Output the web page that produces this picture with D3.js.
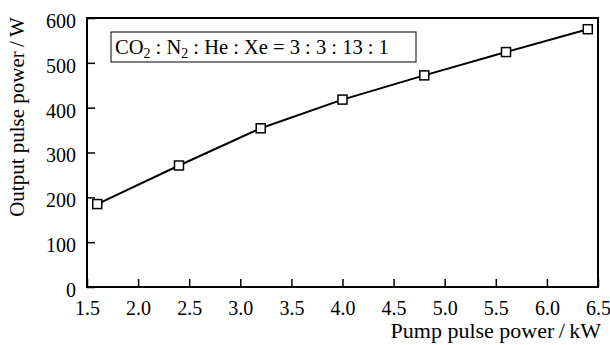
<!DOCTYPE html>
<html>
<head>
<meta charset="utf-8">
<script src="https://cdn.jsdelivr.net/npm/d3@7"></script>
<style>
  body { margin: 0; background: #fff; }
  svg text { font-family: "Liberation Serif", "DejaVu Serif", serif; fill: #000; }
</style>
</head>
<body>
<script>
// data
var pumpPower = [1.6, 2.4, 3.2, 4.0, 4.8, 5.6, 6.4];
var outputPower = [185, 271, 354, 418, 472, 524, 575];
var xTicks = [1.5, 2.0, 2.5, 3.0, 3.5, 4.0, 4.5, 5.0, 5.5, 6.0, 6.5];
var yTicks = [0, 100, 200, 300, 400, 500, 600];

var width = 610, height = 345;
var margin = { left: 87, right: 12, top: 18, bottom: 58 };

var svg = d3.select('body').append('svg').attr('width', width).attr('height', height);

var x = d3.scaleLinear().domain([1.5, 6.5]).range([margin.left, width - margin.right]);
var y = d3.scaleLinear().domain([0, 600]).range([height - margin.bottom, margin.top]);

// x axis, ticks pointing inward
var xAxis = svg.append('g')
   .attr('transform', 'translate(0,' + y(0) + ')')
   .call(d3.axisBottom(x).tickValues(xTicks).tickFormat(d3.format('.1f')).tickSize(-8).tickSizeOuter(0).tickPadding(14));
xAxis.select('.domain').remove();
xAxis.selectAll('line').attr('stroke-width', 1.5);
xAxis.selectAll('text').attr('font-size', 20).attr('font-family', '"Liberation Serif", serif');

var yAxis = svg.append('g')
   .attr('transform', 'translate(' + x(1.5) + ',0)')
   .call(d3.axisLeft(y).tickValues(yTicks).tickSize(-8).tickSizeOuter(0).tickPadding(11));
yAxis.select('.domain').remove();
yAxis.selectAll('line').attr('stroke-width', 1.5);
yAxis.selectAll('text').attr('font-size', 20).attr('font-family', '"Liberation Serif", serif').attr('dy', '0.47em');

// frame
svg.append('rect')
   .attr('x', x(1.5)).attr('y', y(600))
   .attr('width', x(6.5) - x(1.5)).attr('height', y(0) - y(600))
   .attr('fill', 'none').attr('stroke', '#000').attr('stroke-width', 2);

// legend box
svg.append('rect')
   .attr('x', 111).attr('y', 32).attr('width', 305).attr('height', 30)
   .attr('fill', '#fff').attr('stroke', '#000').attr('stroke-width', 1);

var lg = svg.append('text').attr('x', 115).attr('y', 54).attr('font-size', 20.5);
lg.append('tspan').text('CO');
lg.append('tspan').text('2').attr('font-size', 14).attr('dy', 4);
lg.append('tspan').text(' : N').attr('dy', -4);
lg.append('tspan').text('2').attr('font-size', 14).attr('dy', 4);
lg.append('tspan').text(' : He : Xe = 3 : 3 : 13 : 1').attr('dy', -4);

// series line
var pts = pumpPower.map(function (d, i) { return [d, outputPower[i]]; });
svg.append('path')
   .datum(pts)
   .attr('fill', 'none').attr('stroke', '#000').attr('stroke-width', 2)
   .attr('d', d3.line().x(function (d) { return x(d[0]); }).y(function (d) { return y(d[1]); }));

svg.selectAll('rect.pt')
   .data(pts)
   .enter()
   .append('rect')
   .attr('class', 'pt')
   .attr('x', function (d) { return x(d[0]) - 4.5; })
   .attr('y', function (d) { return y(d[1]) - 4.5; })
   .attr('width', 9).attr('height', 9)
   .attr('fill', '#fff').attr('stroke', '#000').attr('stroke-width', 1.5);

// axis titles
svg.append('text')
   .attr('x', 601).attr('y', 338)
   .attr('text-anchor', 'end').attr('font-size', 22)
   .text('Pump pulse power\u2009/\u2009kW');

svg.append('text')
   .attr('transform', 'translate(24,117) rotate(-90)')
   .attr('text-anchor', 'middle').attr('font-size', 21)
   .text('Output pulse power\u2009/\u2009W');
</script>
</body>
</html>
